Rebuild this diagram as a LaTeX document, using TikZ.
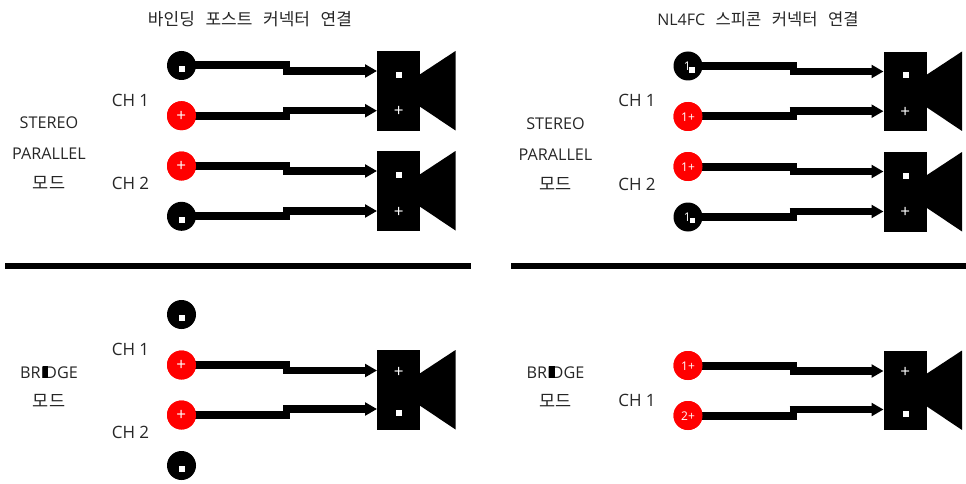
\documentclass[tikz,border=0pt]{standalone}
\usepackage{fontspec}
\setmainfont{Open Sans}
\newfontfamily\krfont{Noto Sans CJK KR}
\newfontfamily\krtitle[WordSpace=2.8]{Noto Sans CJK KR}
\newfontfamily\chfont[WordSpace=2.2]{Open Sans}
\usetikzlibrary{arrows.meta,calc}
\newcommand{\wire}[2]{%
  \draw[wirea] (#1.center) -- ++(108.5,0);
  \path (#1.center) ++(101.5,0) coordinate (#1s);
  \draw[wireb] (#1s |- #2) -- (#2);
}
\newcommand{\speaker}[3]{% name, x, y top
  \node[spkbox,anchor=north west] (#1) at (#2,#3) {};
  \fill[black] (#2+42,#3+24) -- (#2+78.5,#3) -- (#2+78.5,#3+79.5) -- (#2+42,#3+55) -- cycle;
}
\begin{document}
\begin{tikzpicture}[x=1pt,y=-1pt,
  postneg/.style={circle,fill=black,minimum size=29pt,inner sep=0pt},
  postpos/.style={circle,fill=red,minimum size=29pt,inner sep=0pt},
  wirea/.style={line width=8pt,black},
  wireb/.style={line width=7.6pt,black,-{Triangle[length=12pt,width=12.8pt]}},
  spkbox/.style={fill=black,minimum width=43pt,minimum height=79.5pt,inner sep=0pt},
  sq/.style={fill=white,minimum size=6pt,inner sep=0pt},
  plusmark/.style={text=white,font=\fontsize{17}{17}\selectfont,inner sep=0pt},
  pinlabel/.style={text=white,font=\fontsize{12}{12}\selectfont,inner sep=0pt},
  lbl/.style={text=black!85,font=\fontsize{16.2}{16.2}\selectfont,inner sep=0pt,yshift=-1pt},
  chlbl/.style={text=black!85,font=\chfont\fontsize{17}{17}\selectfont,inner sep=0pt,yshift=-0.5pt},
  krlbl/.style={text=black!85,font=\krfont\fontsize{17.5}{17.5}\selectfont,inner sep=0pt},
  titlelbl/.style={text=black!85,font=\krtitle\fontsize{17}{17}\selectfont,inner sep=0pt},
  divider/.style={fill=black,inner sep=0pt,minimum height=6pt},
  blot/.style={fill=black,minimum width=5.4pt,minimum height=11.5pt,inner sep=0pt}]
\useasboundingbox (0,0) rectangle (966,484);

% titles
\node[titlelbl] (t1) at (250,19) {바인딩 포스트 커넥터 연결};
\node[titlelbl,font=\krtitle\fontsize{16.6}{16.6}\selectfont] (t2) at (758,19.5) {{\fontspec{Open Sans}\fontsize{16}{16}\selectfont NL4FC} 스피콘 커넥터 연결};

% dividers
\node[divider,minimum width=466pt,anchor=west] (d1) at (5,266) {};
\node[divider,minimum width=455pt,anchor=west] (d2) at (511,266) {};

% left labels
\node[lbl] (a1) at (49,122) {STEREO};
\node[lbl] (a2) at (49,153) {PARALLEL};
\node[krlbl] (a3) at (49,183) {모드};
\node[chlbl] (a4) at (130.5,99.5) {CH 1};
\node[chlbl] (a5) at (130.5,183) {CH 2};
\node[lbl] (a6) at (49,372) {BRIDGE};
\node[blot] (a6b) at (45.5,372) {};
\node[krlbl] (a7) at (49,401) {모드};
\node[chlbl] (a8) at (130.5,348.5) {CH 1};
\node[chlbl] (a9) at (130.5,432) {CH 2};

% right labels
\node[lbl] (b1) at (555.5,123) {STEREO};
\node[lbl] (b2) at (555.5,153.5) {PARALLEL};
\node[krlbl] (b3) at (555.5,183.5) {모드};
\node[chlbl] (b4) at (637,100) {CH 1};
\node[chlbl] (b5) at (637,183.5) {CH 2};
\node[lbl] (b6) at (555.5,372) {BRIDGE};
\node[blot] (b6b) at (552,372) {};
\node[krlbl] (b7) at (555.5,401) {모드};
\node[chlbl] (b8) at (637,399.5) {CH 1};

% wire end points
\coordinate (la1) at (377,71);
\coordinate (la2) at (377,110.7);
\coordinate (la3) at (377,171);
\coordinate (la4) at (377,211);
\coordinate (lb2) at (377,370.5);
\coordinate (lb3) at (377,409);
\coordinate (ra1) at (883.5,71.5);
\coordinate (ra2) at (883.5,111.2);
\coordinate (ra3) at (883.5,171.5);
\coordinate (ra4) at (883.5,211.5);
\coordinate (rb2) at (883.5,371);
\coordinate (rb3) at (883.5,409.5);

% post positions
\coordinate (clp1) at (181.5,65.5);
\coordinate (clp2) at (181.5,115.7);
\coordinate (clp3) at (181.5,166);
\coordinate (clp4) at (181.5,216.3);
\coordinate (clq2) at (181.5,365);
\coordinate (clq3) at (181.5,415);
\coordinate (crp1) at (688,66);
\coordinate (crp2) at (688,116.5);
\coordinate (crp3) at (688,166.5);
\coordinate (crp4) at (688,217);
\coordinate (crq2) at (688,365.5);
\coordinate (crq3) at (688,415.5);

% posts, left
\node[postneg] (lp1) at (clp1) {};
\node[postpos] (lp2) at (clp2) {};
\node[postpos] (lp3) at (clp3) {};
\node[postneg] (lp4) at (clp4) {};
\node[postneg] (lq1) at (181.5,314.5) {};
\node[postpos] (lq2) at (clq2) {};
\node[postpos] (lq3) at (clq3) {};
\node[postneg] (lq4) at (181.5,465.5) {};
% posts, right
\node[postneg] (rp1) at (crp1) {};
\node[postpos] (rp2) at (crp2) {};
\node[postpos] (rp3) at (crp3) {};
\node[postneg] (rp4) at (crp4) {};
\node[postpos] (rq2) at (crq2) {};
\node[postpos] (rq3) at (crq3) {};

% wires
\wire{lp1}{la1}\wire{lp2}{la2}\wire{lp3}{la3}\wire{lp4}{la4}
\wire{lq2}{lb2}\wire{lq3}{lb3}
\wire{rp1}{ra1}\wire{rp2}{ra2}\wire{rp3}{ra3}\wire{rp4}{ra4}
\wire{rq2}{rb2}\wire{rq3}{rb3}

% red post faces back over the wire starts
\node[postpos] at (clp2) {};
\node[postpos] at (clp3) {};
\node[postpos] at (clq2) {};
\node[postpos] at (clq3) {};
\node[postpos] at (crp2) {};
\node[postpos] at (crp3) {};
\node[postpos] at (crq2) {};
\node[postpos] at (crq3) {};

% post marks, left
\node[sq] (m1) at (182,69) {};
\node[plusmark] (m2) at (181.3,116.5) {+};
\node[plusmark] (m3) at (181.3,166.5) {+};
\node[sq] (m4) at (182,219.5) {};
\node[sq] (m5) at (182,318) {};
\node[plusmark] (m6) at (181.3,365.5) {+};
\node[plusmark] (m7) at (181.3,415.5) {+};
\node[sq] (m8) at (182,469) {};
% post marks, right
\node[pinlabel] (n1) at (687.3,66.7) {1};
\node[sq,minimum size=5.5pt] (n1s) at (692,70) {};
\node[pinlabel] (n2) at (688,117) {1+};
\node[pinlabel] (n3) at (688,167) {1+};
\node[pinlabel] (n4) at (687.3,217.5) {1};
\node[sq,minimum size=5.5pt] (n4s) at (692.3,220.5) {};
\node[pinlabel] (n5) at (688,366) {1+};
\node[pinlabel] (n6) at (688,416) {2+};

% speakers
\speaker{ls1}{377}{51}
\speaker{ls2}{377}{151}
\speaker{ls3}{377}{350}
\speaker{rs1}{883.5}{51.5}
\speaker{rs2}{883.5}{152}
\speaker{rs3}{883.5}{350.5}

% speaker marks
\node[sq] (s1) at (399,75) {};
\node[plusmark] (s2) at (398.7,111.5) {+};
\node[sq] (s3) at (399,175) {};
\node[plusmark] (s4) at (398.7,212) {+};
\node[plusmark] (s5) at (398.7,372) {+};
\node[sq] (s6) at (399,413) {};
\node[sq] (r1) at (905.5,75.5) {};
\node[plusmark] (r2) at (905.2,112) {+};
\node[sq] (r3) at (905.5,175.5) {};
\node[plusmark] (r4) at (905.2,212.5) {+};
\node[plusmark] (r5) at (905.2,372.5) {+};
\node[sq] (r6) at (905.5,413.5) {};
\end{tikzpicture}
\end{document}
